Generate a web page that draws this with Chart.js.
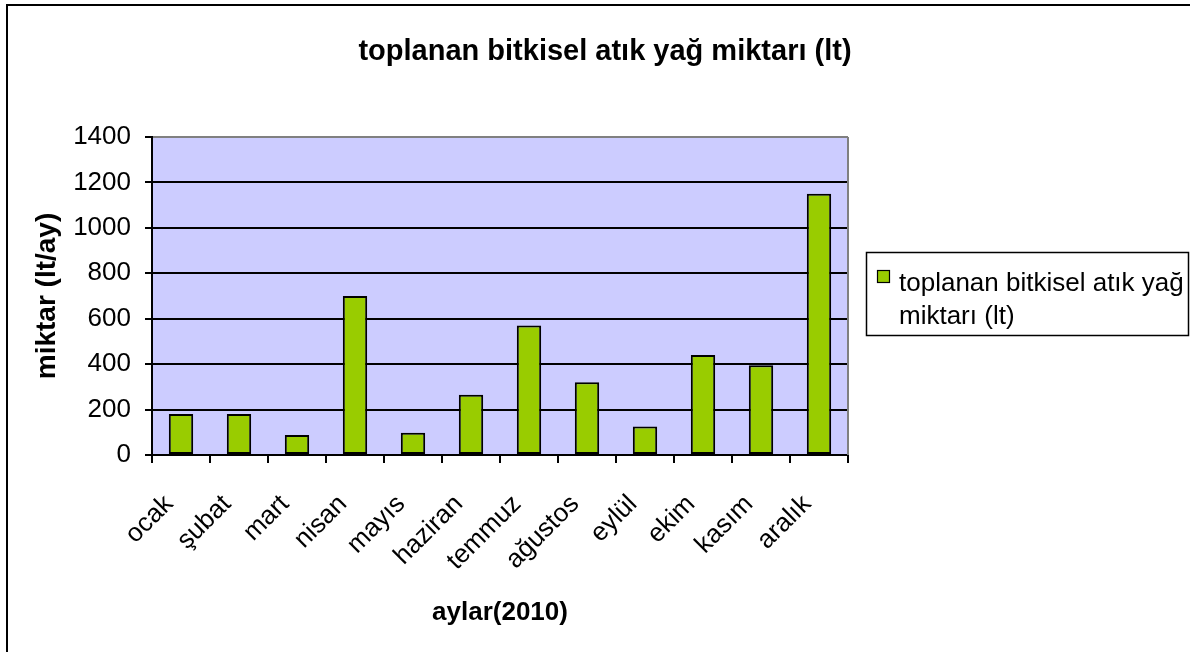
<!DOCTYPE html>
<html><head><meta charset="utf-8">
<script src="https://cdn.jsdelivr.net/npm/chart.js@4.4.1/dist/chart.umd.min.js"></script>
<style>html,body{margin:0;padding:0;background:#fff;overflow:hidden}#wrap{position:relative;width:1190px;height:652px}</style>
</head><body><div id="wrap"><canvas id="c" width="1190" height="652"></canvas></div>
<script>
const chartTitle = 'toplanan bitkisel atık yağ miktarı (lt)';
const seriesName = 'toplanan bitkisel atık yağ miktarı (lt)';
const legendLines = ['toplanan bitkisel atık yağ', 'miktarı (lt)'];
const months = ['ocak','şubat','mart','nisan','mayıs','haziran','temmuz','ağustos','eylül','ekim','kasım','aralık'];
const amounts = [180, 180, 88, 700, 98, 265, 570, 320, 125, 440, 395, 1150];
const yTickValues = [0, 200, 400, 600, 800, 1000, 1200, 1400];
const xAxisTitle = 'aylar(2010)';
const yAxisTitle = 'miktar (lt/ay)';

const FONT = '"Liberation Sans", Arial, sans-serif';
const GREEN = '#99CC00';

const decor = {
  id: 'decor',
  beforeDraw(chart) {
    const {ctx, chartArea: a} = chart;
    ctx.save();
    ctx.fillStyle = '#fff';
    ctx.fillRect(0, 0, chart.width, chart.height);
    ctx.fillStyle = '#CCCCFF';
    ctx.fillRect(a.left, a.top, a.right - a.left, a.bottom - a.top);
    ctx.restore();
  },
  beforeDatasetsDraw(chart) {
    const {ctx, chartArea: a} = chart;
    ctx.save();
    ctx.strokeStyle = '#808080';
    ctx.lineWidth = 2;
    ctx.beginPath();
    ctx.moveTo(a.right, a.top);
    ctx.lineTo(a.right, a.bottom);
    ctx.stroke();
    ctx.restore();
  },
  afterDraw(chart) {
    const {ctx} = chart;
    ctx.save();
    // outer frame (left + top visible)
    ctx.strokeStyle = '#000';
    ctx.lineWidth = 2;
    ctx.beginPath();
    ctx.moveTo(7, 700);
    ctx.lineTo(7, 5);
    ctx.lineTo(1300, 5);
    ctx.stroke();
    // title
    ctx.fillStyle = '#000';
    ctx.font = 'bold 29px ' + FONT;
    ctx.textAlign = 'center';
    ctx.textBaseline = 'alphabetic';
    ctx.fillText(chartTitle, 605, 60);
    // legend
    ctx.lineWidth = 1.5;
    ctx.strokeRect(866.5, 252.5, 322, 83);
    const ds = chart.data.datasets[0];
    ctx.fillStyle = ds.backgroundColor;
    ctx.fillRect(877, 270, 12, 12);
    ctx.lineWidth = 1.2;
    ctx.strokeRect(877.5, 270.5, 12, 12);
    ctx.fillStyle = '#000';
    ctx.font = '26px ' + FONT;
    ctx.textAlign = 'left';
    ctx.fillText(legendLines[0], 899, 291);
    ctx.fillText(legendLines[1], 899, 324);
    ctx.restore();
  }
};

new Chart(document.getElementById('c'), {
  type: 'bar',
  data: {
    labels: months,
    datasets: [{
      label: seriesName,
      data: amounts,
      backgroundColor: GREEN,
      borderColor: '#000',
      borderWidth: 2,
      borderSkipped: false,
      barPercentage: 0.42,
      categoryPercentage: 1
    }]
  },
  options: {
    responsive: false,
    animation: false,
    devicePixelRatio: 1,
    layout: {padding: {left: 0, top: 137, right: 342, bottom: 0}},
    plugins: {legend: {display: false}, title: {display: false}, tooltip: {enabled: false}},
    scales: {
      x: {
        afterFit(s) { s.height = 197; },
        grid: {offset: true, drawOnChartArea: false, drawTicks: true, tickLength: 8, color: '#000', lineWidth: 2},
        border: {display: true, color: '#000', width: 2},
        ticks: {
          autoSkip: false, minRotation: 45, maxRotation: 45, padding: 26, labelOffset: -12,
          color: '#000', font: {family: FONT, size: 26}
        },
        title: {display: true, text: xAxisTitle, color: '#000', font: {family: FONT, size: 26, weight: 'bold'}, padding: {bottom: 24}}
      },
      y: {
        min: 0, max: 1400,
        afterFit(s) { s.width = 152; },
        afterBuildTicks(s) { s.ticks = yTickValues.map(v => ({value: v})); },
        grid: {
          drawTicks: true, tickLength: 7, lineWidth: 2, tickColor: '#000',
          color: c => (c.tick && c.tick.value === 1400) ? '#808080' : '#000'
        },
        border: {display: true, color: '#000', width: 2},
        ticks: {padding: 14, color: '#000', font: {family: FONT, size: 26}, callback: v => String(v)},
        title: {display: true, text: yAxisTitle, color: '#000', font: {family: FONT, size: 28, weight: 'bold'}, padding: {top: 30}}
      }
    }
  },
  plugins: [decor]
});
</script></body></html>
